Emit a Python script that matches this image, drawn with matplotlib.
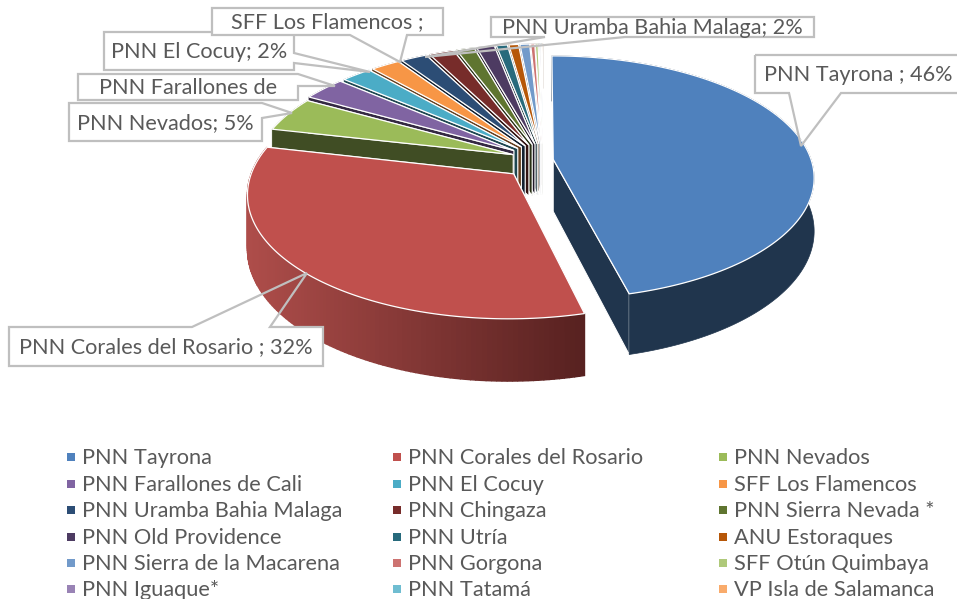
import numpy as np
import matplotlib
matplotlib.use('Agg')
import matplotlib.pyplot as plt
from matplotlib.colors import to_rgb
from matplotlib.patches import Polygon, Rectangle

plt.rcParams['font.family'] = ['Lato', 'DejaVu Sans']

parks = ['PNN Tayrona', 'PNN Corales del Rosario', 'PNN Nevados',
         'PNN Farallones de Cali', 'PNN El Cocuy', 'SFF Los Flamencos',
         'PNN Uramba Bahia Malaga', 'PNN Chingaza', 'PNN Sierra Nevada *',
         'PNN Old Providence', 'PNN Utría', 'ANU Estoraques',
         'PNN Sierra de la Macarena', 'PNN Gorgona', 'SFF Otún Quimbaya',
         'PNN Iguaque*', 'PNN Tatamá', 'VP Isla de Salamanca']
shares = [45.8, 32.4, 4.6, 3.1, 2.2, 2.1, 1.9, 1.8, 1.3, 1.3, 0.8, 0.7, 0.7, 0.3,
          0.2, 0.1, 0.1, 0.1]
explode = [0.04, 0.16, 0.125] + [0.14] * 15
colors = ['#4F81BD', '#C0504D', '#9BBB59', '#8064A2', '#4BACC6', '#F79646',
          '#2C4D75', '#772C2A', '#5F7530', '#4D3B62', '#276A7C', '#B65708',
          '#729ACA', '#CD7371', '#AFC97A', '#9983B5', '#6FBDD1', '#F9AB6B']

# label text, box (left, top, right, bottom), wedge base (2 points), wedge tip
callouts = [
    ('PNN Tayrona ; 46%', (755, 55, 962, 93), 'bottom', (789, 841), (801, 146)),
    ('PNN Corales del Rosario ; 32%', (9, 327, 323, 366), 'top', (192, 270), (307, 273)),
    ('PNN Nevados; 5%', (69, 103, 262, 141), 'right', (103, 118), (292, 113)),
    ('PNN Farallones de', (78, 74, 298, 100), 'right', (74, 86), (335, 86)),
    ('PNN El Cocuy; 2%', (104, 32, 294, 70), 'right', (53, 63), (370, 72)),
    ('SFF Los Flamencos ;', (212, 8, 443, 35), 'bottom', (350, 407), (400, 62)),
    ('PNN Uramba Bahia Malaga; 2%', (491, 17, 814, 37), 'bottom', (545, 625), (425, 57)),
]

# pie geometry in pixels
CX, CY = 543, 160
A, B = 258, 119
K = 0.148
H = 52
LABEL = '#595959'
BORDER = '#BFBFBF'


def project(x, y, z=0.0):
    s = 1 / (1 + K * y)
    return np.column_stack([CX + A * x * s, CY - B * y * s + H * z * s])


def darker(col, f=0.41):
    return tuple(c * f for c in to_rgb(col))


fig = plt.figure(figsize=(9.57, 5.99), dpi=100)
ax = fig.add_axes([0, 0, 1, 1])
ax.set_xlim(0, 957)
ax.set_ylim(599, 0)
ax.axis('off')

edges = np.cumsum([0] + shares) / sum(shares) * 2 * np.pi
# back slices first, the two big ones in front
order = list(range(len(shares) - 1, 1, -1)) + [1, 0]
for z, i in enumerate(order):
    t0, t1 = edges[i], edges[i + 1]
    mid = (t0 + t1) / 2
    ox, oy = explode[i] * np.sin(mid), explode[i] * np.cos(mid)
    t = np.linspace(t0, t1, max(int((t1 - t0) * 60), 3))
    rx, ry = ox + np.sin(t), oy + np.cos(t)
    rim = project(rx, ry)
    rim_low = project(rx, ry, 1)
    apex = project(np.array([ox]), np.array([oy]))
    apex_low = project(np.array([ox]), np.array([oy]), 1)
    wall = darker(colors[i])

    # cut faces, the one facing us last
    for end in ((0, -1) if i == 0 else (-1, 0)):
        face = [apex[0], rim[end], rim_low[end], apex_low[0]]
        ax.add_patch(Polygon(face, fc=wall, ec='white', lw=0.7, zorder=2 + z))
    # outer wall, only the red one is shaded
    if i == 1:
        c0, c1 = np.array(to_rgb('#AE4D4A')), np.array(to_rgb('#572120'))
        for j in range(len(t) - 1):
            f = np.clip((rim[j, 0] - 248) / (586 - 248), 0, 1)
            col = tuple(c0 + (c1 - c0) * f)
            quad = [rim[j], rim[j + 1], rim_low[j + 1], rim_low[j]]
            ax.add_patch(Polygon(quad, fc=col, ec=col, lw=1.0, zorder=2 + z))
    else:
        shell = np.vstack([rim, rim_low[::-1]])
        ax.add_patch(Polygon(shell, fc=wall, ec=wall, lw=0.5, zorder=2 + z))
    top = np.vstack([apex, rim])
    ax.add_patch(Polygon(top, fc=colors[i], ec='white', lw=0.9, zorder=2 + z))

for k, (label, box, side, base, tip) in enumerate(callouts):
    l, t, r, b = box
    ax.add_patch(Rectangle((l, t), r - l, b - t, fc='white', ec='none', zorder=40 + k))
    if side == 'bottom':
        pts = [(l, t), (r, t), (r, b), (base[1], b), tip, (base[0], b), (l, b)]
    elif side == 'top':
        pts = [(l, t), (base[0], t), tip, (base[1], t), (r, t), (r, b), (l, b)]
    else:
        pts = [(l, t), (r, t), (r, base[0]), tip, (r, base[1]), (r, b), (l, b)]
    ax.add_patch(Polygon(pts, fc='none', ec=BORDER, lw=1.6, zorder=40 + k))
    ax.text((l + r) / 2, (t + b) / 2 + 1, label, color=LABEL, fontsize=15.6,
            ha='center', va='center', zorder=40 + k)

# legend, filled row by row
legend_x = [71, 397, 723]
legend_y = [457, 484, 510, 537, 563, 589]
for i, name in enumerate(parks):
    row, col = divmod(i, 3)
    ax.add_patch(Rectangle((legend_x[col] - 4, legend_y[row] - 4), 8, 8, fc=colors[i], ec='none'))
    ax.text(legend_x[col] + 11, legend_y[row] + 1, name, color=LABEL, fontsize=15.7,
            ha='left', va='center')

fig.savefig('out.png', dpi=100)
